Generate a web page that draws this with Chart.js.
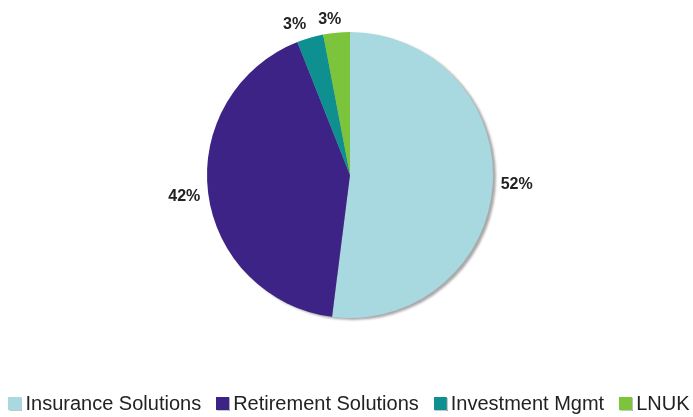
<!DOCTYPE html>
<html>
<head>
<meta charset="utf-8">
<script src="https://cdn.jsdelivr.net/npm/chart.js@4.4.1/dist/chart.umd.min.js"></script>
<style>
  html, body { margin: 0; padding: 0; background: #fff; }
  #wrap { width: 693px; height: 417px; }
</style>
</head>
<body>
<div id="wrap"><canvas id="segPie" width="693" height="417"></canvas></div>
<script>
// segment share of earnings (%)
const segments = ['Insurance Solutions', 'Retirement Solutions', 'Investment Mgmt', 'LNUK'];
const shares = [52, 42, 3, 3];
const sliceColors = ['#a8d9e0', '#3d2386', '#0e8f90', '#7cc43c'];

// little square swatch used as the legend marker
function swatch(color) {
  const c = document.createElement('canvas');
  c.width = 14; c.height = 14;
  const g = c.getContext('2d');
  g.fillStyle = color;
  g.fillRect(0, 0, 13, 13);
  g.fillStyle = 'rgba(0,0,0,0.22)';
  g.fillRect(1, 13, 13, 1);
  g.fillRect(13, 1, 1, 13);
  return c;
}

// legend box is made extra wide so it stays on one row; slide it back left
const legendShift = {
  id: 'legendShift',
  afterLayout(chart) {
    const lg = chart.legend;
    if (!lg) return;
    lg.left -= 16;
    lg.right -= 16;
  }
};

// soft gray drop shadow behind the pie
const pieShadow = {
  id: 'pieShadow',
  beforeDatasetsDraw(chart) {
    const arc = chart.getDatasetMeta(0).data[0];
    if (!arc) return;
    const ctx = chart.ctx;
    ctx.save();
    ctx.filter = 'blur(1px)';
    ctx.fillStyle = '#a9a9a9';
    ctx.beginPath();
    ctx.arc(arc.x + 3, arc.y + 2, arc.outerRadius, 0, Math.PI * 2);
    ctx.fill();
    ctx.restore();
  }
};

// percent labels just outside each slice
const pctLabels = {
  id: 'pctLabels',
  afterDatasetsDraw(chart) {
    const ctx = chart.ctx;
    const arcs = chart.getDatasetMeta(0).data;
    const nudgeX = [0, 0, -10, -5];
    const nudgeY = [0, 2, 0, 1];
    ctx.save();
    ctx.font = 'bold 16px "Liberation Sans", Arial, sans-serif';
    ctx.fillStyle = '#222';
    ctx.textAlign = 'center';
    ctx.textBaseline = 'middle';
    arcs.forEach((a, i) => {
      const mid = (a.startAngle + a.endAngle) / 2;
      const dx = Math.cos(mid), dy = Math.sin(mid);
      const txt = shares[i] + '%';
      const w = ctx.measureText(txt).width, h = 12;
      const px = a.x + dx * (a.outerRadius + 8);
      const py = a.y + dy * (a.outerRadius + 8);
      ctx.fillText(txt, px + dx * w / 2 + nudgeX[i], py + dy * h / 2 + nudgeY[i]);
    });
    ctx.restore();
  }
};

const ctx = document.getElementById('segPie').getContext('2d');
new Chart(ctx, {
  type: 'pie',
  data: {
    labels: segments,
    datasets: [{
      data: shares,
      backgroundColor: sliceColors,
      borderWidth: 0,
      radius: 143
    }]
  },
  options: {
    responsive: false,
    animation: false,
    layout: { padding: { left: 7, right: -37, top: 0, bottom: -7 } },
    plugins: {
      tooltip: { enabled: false },
      legend: {
        position: 'bottom',
        title: { display: true, text: '', font: { size: 10, lineHeight: 1 }, padding: { top: 12, bottom: 0 } },
        labels: {
          usePointStyle: true,
          pointStyleWidth: 0.01,
          boxHeight: 14,
          padding: 22,
          color: '#222',
          font: { family: '"Liberation Sans", Arial, sans-serif', size: 20 },
          generateLabels(chart) {
            const items = Chart.overrides.pie.plugins.legend.labels.generateLabels(chart);
            items.forEach((it, i) => { it.pointStyle = swatch(sliceColors[i]); });
            return items;
          }
        }
      }
    }
  },
  plugins: [legendShift, pieShadow, pctLabels]
});
</script>
</body>
</html>
